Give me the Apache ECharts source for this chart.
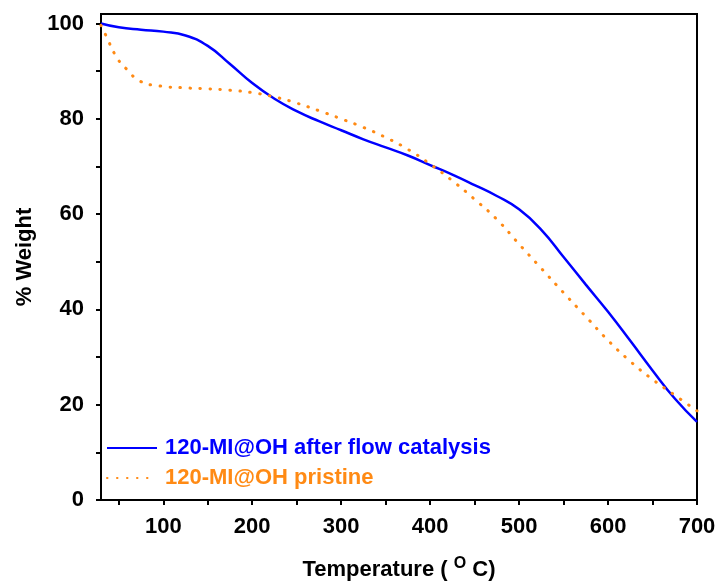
<!DOCTYPE html>
<html>
<head>
<meta charset="utf-8">
<script src="https://cdn.jsdelivr.net/npm/echarts@6/dist/echarts.min.js"></script>
<style>
html,body{margin:0;padding:0;background:#fff;}
#c{width:720px;height:586px;}
</style>
</head>
<body>
<div id="c"></div>
<script>
const seriesNames = ['120-MI@OH after flow catalysis', '120-MI@OH pristine'];
const blueTemp = [30, 50, 75, 100, 125, 150, 175, 200, 225, 250, 275, 300, 325, 350, 375, 400, 425, 450, 475, 500, 525, 550, 575, 600, 625, 650, 675, 700];
const blueWeight = [100, 99.2, 98.7, 98.3, 97.5, 95.3, 91.5, 87.5, 84.2, 81.6, 79.5, 77.6, 75.7, 74.0, 72.3, 70.3, 68.3, 66.1, 63.8, 61.0, 56.7, 51.0, 45.2, 39.5, 33.4, 27.2, 21.3, 16.4];
const orangeTemp = [30, 35, 48, 59, 74, 96, 125, 150, 175, 200, 225, 250, 275, 300, 325, 350, 375, 400, 425, 450, 475, 500, 525, 550, 575, 600, 625, 650, 675, 700];
const orangeWeight = [99.6, 97.7, 92.8, 90.4, 87.9, 86.9, 86.5, 86.3, 86.0, 85.5, 84.6, 83.3, 81.7, 80.0, 78.2, 76.1, 73.6, 70.5, 67.0, 63.1, 58.9, 53.7, 48.6, 43.5, 38.5, 33.5, 29.1, 25.3, 22.0, 18.7];
const xMajor = [100, 200, 300, 400, 500, 600, 700];
const xMinor = [50, 150, 250, 350, 450, 550, 650];
const yMajor = [0, 20, 40, 60, 80, 100];
const yMinor = [10, 30, 50, 70, 90];

const FONT = '"Liberation Sans", Arial, sans-serif';
const BLUE = '#0000FF';
const ORANGE = '#FF8A14';

function pairs(xs, ys) { return xs.map((x, i) => [x, ys[i]]); }
function tickAxis(min, max, pos, values, len) {
  return {
    type: 'value', min: min, max: max, position: pos,
    axisLine: {show: false, onZero: false}, axisLabel: {show: false}, splitLine: {show: false},
    axisTick: {show: true, inside: false, length: len, lineStyle: {color: '#000', width: 2}, customValues: values}
  };
}

const chart = echarts.init(document.getElementById('c'), null, {renderer: 'canvas'});
chart.setOption({
  backgroundColor: '#ffffff',
  animation: false,
  grid: {left: 101, right: 23, top: 14, bottom: 86, show: true, borderColor: '#000', borderWidth: 2, backgroundColor: 'transparent'},
  legend: {
    orient: 'vertical', left: 106, top: 436, padding: 0, itemWidth: 50, itemHeight: 14, itemGap: 6,
    itemStyle: {opacity: 0, borderWidth: 0},
    data: [
      {name: seriesNames[0], textStyle: {color: BLUE}},
      {name: seriesNames[1], textStyle: {color: ORANGE}}
    ],
    textStyle: {fontFamily: FONT, fontWeight: 'bold', fontSize: 22, lineHeight: 24, padding: [0, 0, 0, 3]}
  },
  xAxis: [{
    type: 'value', min: 30, max: 700, position: 'bottom',
    name: 'Temperature ( {sup|O} C)', nameLocation: 'middle', nameGap: 56,
    nameTextStyle: {fontFamily: FONT, fontWeight: 'bold', fontSize: 22, color: '#000',
      rich: {sup: {fontFamily: FONT, fontWeight: 'bold', fontSize: 16, color: '#000', verticalAlign: 'top', padding: [0, 0, 12, 0]}}},
    axisLine: {show: true, onZero: false, lineStyle: {color: '#000', width: 2}},
    axisTick: {show: true, inside: false, length: 5, lineStyle: {color: '#000', width: 2}, customValues: xMinor},
    axisLabel: {show: true, margin: 16, fontFamily: FONT, fontWeight: 'bold', fontSize: 22, color: '#000', customValues: xMajor},
    splitLine: {show: false}
  },
    tickAxis(30, 700, 'bottom', xMajor, 5)
  ],
  yAxis: [{
    type: 'value', min: 0, max: 102, position: 'left',
    name: '% Weight', nameLocation: 'middle', nameGap: 64, nameRotate: 90,
    nameTextStyle: {fontFamily: FONT, fontWeight: 'bold', fontSize: 22, color: '#000'},
    axisLine: {show: true, onZero: false, lineStyle: {color: '#000', width: 2}},
    axisTick: {show: true, inside: false, length: 5, lineStyle: {color: '#000', width: 2}, customValues: yMinor},
    axisLabel: {show: true, margin: 17, fontFamily: FONT, fontWeight: 'bold', fontSize: 22, color: '#000', customValues: yMajor},
    splitLine: {show: false}
  },
    tickAxis(0, 102, 'left', yMajor, 5)
  ],
  series: [{
    name: seriesNames[0], type: 'line', data: pairs(blueTemp, blueWeight),
    smooth: 0.5, symbol: 'none', color: BLUE,
    lineStyle: {color: BLUE, width: 2.5}
  }, {
    name: seriesNames[1], type: 'line', data: pairs(orangeTemp, orangeWeight),
    smooth: 0.5, symbol: 'none', color: ORANGE,
    lineStyle: {color: ORANGE, width: 3, type: [0.5, 9.5], cap: 'round'}
  }]
});
</script>
</body>
</html>
